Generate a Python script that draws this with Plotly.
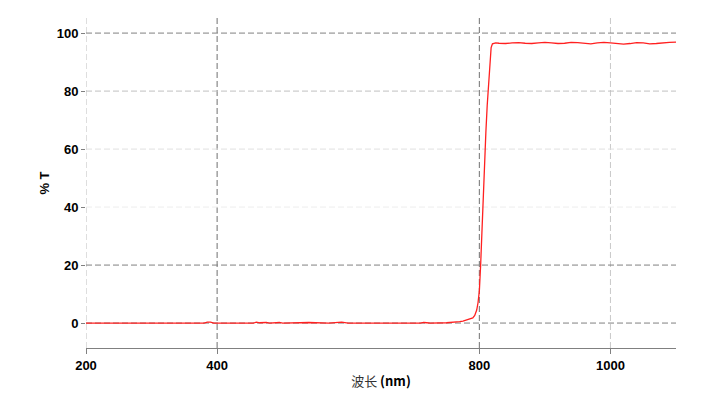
import plotly.graph_objects as go

# Transmission spectrum data
wavelength = [200, 250, 300, 350, 355, 360, 365, 380, 385, 390, 395, 430, 435, 440, 450, 455,
              460, 465, 475, 480, 495, 500, 540, 550, 560, 570, 590, 595, 600, 710, 715, 720,
              725, 750, 760, 765, 770, 775, 780, 785, 790, 793, 796, 798, 800, 802, 804, 806,
              808, 810, 812, 814, 816, 818, 820, 825, 830, 840, 850, 860, 870, 880, 890, 900,
              910, 920, 930, 940, 950, 960, 970, 980, 990, 1000, 1010, 1020, 1030, 1040, 1050,
              1060, 1070, 1080, 1090, 1100]
transmission = [0, 0, 0, 0, 0.1, 0.2, 0, 0, 0.3, 0.3, 0, 0, 0.2, 0, 0.2, 0,
                0.3, 0.1, 0.2, 0, 0.2, 0, 0.2, 0.1, 0.2, 0, 0.3, 0.1, 0, 0, 0.2, 0.1,
                0, 0.1, 0.2, 0.3, 0.5, 0.7, 1.0, 1.3, 1.8, 2.6, 4.5, 7.0, 11, 20, 33, 45,
                57, 66, 75, 82, 90, 95, 96.3, 96.6, 96.5, 96.4, 96.6, 96.7, 96.5, 96.4, 96.6, 96.8,
                96.6, 96.4, 96.5, 96.8, 96.7, 96.4, 96.3, 96.6, 96.8, 96.6, 96.3, 96.2, 96.4, 96.7, 96.6,
                96.3, 96.4, 96.7, 96.8, 96.9]

x_ticks = [200, 400, 800, 1000]
x_tick_labels = ["200", "400", "800", "1000"]
x_grid_colors = ["#bdbdbd", "#707070", "#707070", "#c8c8c8"]
y_ticks = [0, 20, 40, 60, 80, 100]
y_tick_labels = ["0", "20", "40", "60", "80", "100"]
y_grid_colors = ["#808080", "#808080", "#ededed", "#e0e0e0", "#c0c0c0", "#808080"]

x_range = [200, 1100]
y_range = [-8.6, 105.2]

fig = go.Figure()
fig.add_trace(go.Scatter(x=wavelength, y=transmission, mode="lines",
                         line=dict(color="#ff2020", width=1.3), showlegend=False,
                         hoverinfo="skip"))

shapes = []
for xv, c in zip(x_ticks, x_grid_colors):
    shapes.append(dict(type="line", xref="x", yref="paper", x0=xv, x1=xv, y0=0, y1=1,
                       line=dict(color=c, width=1, dash="6px,3px"), layer="below"))
for yv, c in zip(y_ticks, y_grid_colors):
    shapes.append(dict(type="line", xref="paper", yref="y", x0=0, x1=1, y0=yv, y1=yv,
                       line=dict(color=c, width=1, dash="6px,3px"), layer="below"))

font_bold = "Liberation Sans, Arial, sans-serif"

fig.update_layout(
    width=709, height=407,
    margin=dict(l=86, r=33, t=18, b=59),
    paper_bgcolor="white", plot_bgcolor="white",
    shapes=shapes,
    xaxis=dict(range=x_range, tickvals=x_ticks, ticktext=["<b>%s</b>" % t for t in x_tick_labels],
               showgrid=False, zeroline=False, showline=True, linecolor="#808080", linewidth=1,
               ticks="outside", ticklen=5, tickcolor="#808080",
               tickfont=dict(family=font_bold, size=13, color="black"),
               title=dict(text="<span style='color:#333'>波长</span> <b>(nm)</b>",
                          font=dict(family="Noto Sans CJK SC, Liberation Sans", size=13, color="black"),
                          standoff=5)),
    yaxis=dict(range=y_range, tickvals=y_ticks, ticktext=["<b>%s</b>" % t for t in y_tick_labels],
               showgrid=False, zeroline=False, showline=False,
               ticks="outside", ticklen=4, tickcolor="#808080",
               tickfont=dict(family=font_bold, size=13, color="black"),
               title=dict(text="<b>% T</b>", font=dict(family=font_bold, size=13, color="black"),
                          standoff=4)),
)

fig.write_html("out.html", config={"displayModeBar": False},
               post_script="document.body.style.margin='0';")
